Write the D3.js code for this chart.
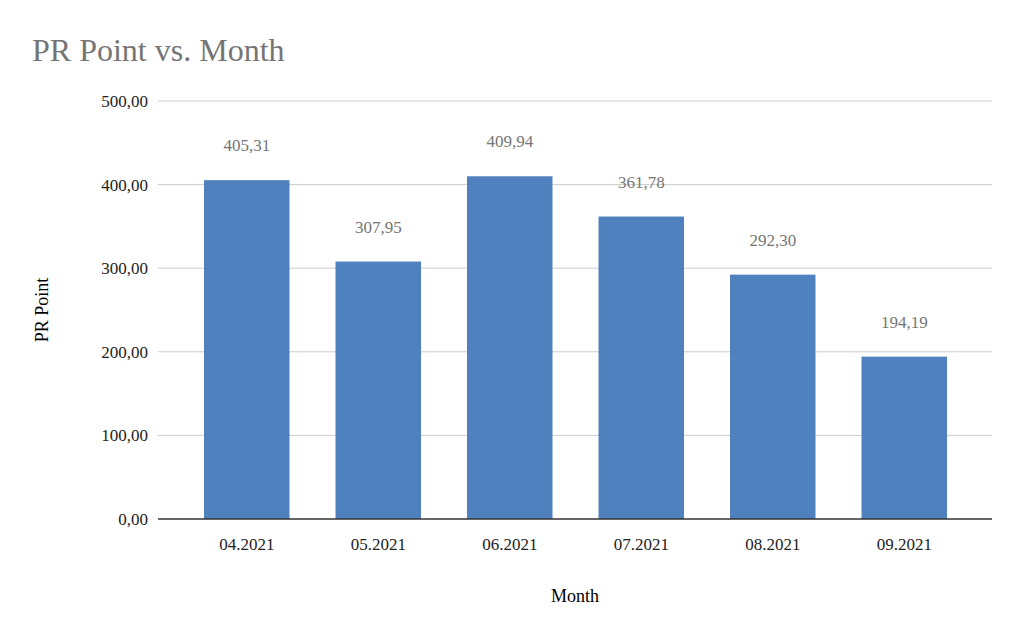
<!DOCTYPE html>
<html><head><meta charset="utf-8">
<script src="https://cdn.jsdelivr.net/npm/d3@7"></script>
<style>body{margin:0;background:#fff}text{font-family:"Liberation Serif","Times New Roman",serif}</style>
</head><body><svg id="c" width="1024" height="639"></svg>
<script>
const months=["04.2021","05.2021","06.2021","07.2021","08.2021","09.2021"];
const values=[405.31,307.95,409.94,361.78,292.30,194.19];
const yTicks=[0,100,200,300,400,500];
const svg=d3.select("#c");
const fmt=v=>v.toFixed(2).replace(".",",");
const x=d3.scaleBand().domain(months).range([181,970]).paddingInner(0.35).paddingOuter(0.175);
const y=d3.scaleLinear().domain([0,500]).range([519,101]);
svg.append("text").attr("x",32).attr("y",61).attr("fill","#757575").attr("font-size",32).text("PR Point vs. Month");
svg.selectAll(".g").data(yTicks.slice(1)).enter().append("line").attr("x1",158).attr("x2",992).attr("y1",d=>y(d)).attr("y2",d=>y(d)).attr("stroke","#cccccc");
svg.selectAll(".yl").data(yTicks).enter().append("text").attr("x",148).attr("y",d=>y(d)+6).attr("text-anchor","end").attr("font-size",17).attr("fill","#222").text(fmt);
svg.selectAll(".b").data(values).enter().append("rect").attr("x",(d,i)=>x(months[i])).attr("width",x.bandwidth()).attr("y",d=>y(d)).attr("height",d=>519-y(d)).attr("fill","#4e81bd");
svg.selectAll(".dl").data(values).enter().append("text").attr("x",(d,i)=>x(months[i])+x.bandwidth()/2).attr("y",d=>y(d)-29).attr("text-anchor","middle").attr("font-size",17).attr("fill","#757575").text(fmt);
svg.append("line").attr("x1",158).attr("x2",992).attr("y1",519).attr("y2",519).attr("stroke","#333").attr("stroke-width",1.3);
svg.selectAll(".xl").data(months).enter().append("text").attr("x",d=>x(d)+x.bandwidth()/2).attr("y",550).attr("text-anchor","middle").attr("font-size",17).attr("fill","#222").text(d=>d);
svg.append("text").attr("x",575).attr("y",602).attr("text-anchor","middle").attr("font-size",18).text("Month");
svg.append("text").attr("transform","translate(48,310) rotate(-90)").attr("text-anchor","middle").attr("font-size",18).text("PR Point");
</script></body></html>
